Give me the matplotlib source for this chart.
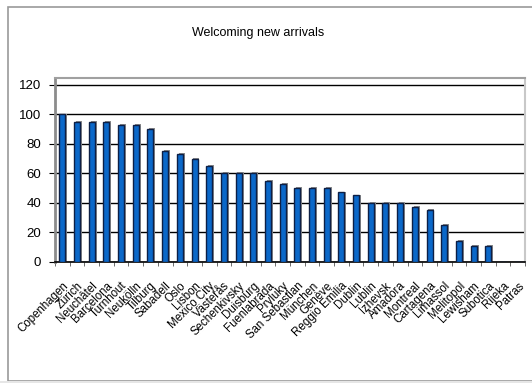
import numpy as np
import matplotlib.pyplot as plt
from matplotlib.patches import Rectangle

plt.rcParams['font.family'] = ['Liberation Sans', 'DejaVu Sans']

cities = ['Copenhagen', 'Zürich', 'Neuchâtel', 'Barcelona', 'Turnhout', 'Neukölln',
          'Tilburg', 'Sabadell', 'Oslo', 'Lisbon', 'Mexico City', 'Västerås',
          'Sechenkivsky', 'Duisburg', 'Fuenlabrada', 'Pryluky', 'San Sebastian',
          'München', 'Genève', 'Reggio Emilia', 'Dublin', 'Lublin', 'Izhevsk',
          'Amadora', 'Montreal', 'Cartagena', 'Limassol', 'Melitopol', 'Lewisham',
          'Subotica', 'Rijeka', 'Patras']
scores = [100, 95, 95, 95, 93, 93, 90, 75, 73, 70, 65, 60, 60, 60, 55, 53, 50,
          50, 50, 47, 45, 40, 40, 40, 37, 35, 25, 14, 11, 11, 0, 0]
yticks = [0, 20, 40, 60, 80, 100, 120]

fig = plt.figure(figsize=(5.32, 3.83), dpi=100)

# outer chart frame
fig.patches.append(Rectangle((8 / 532, 2 / 383), 1.0, 374 / 383, transform=fig.transFigure,
                             fill=False, edgecolor='#9a9a9a', lw=1.2, zorder=0))
fig.patches.append(Rectangle((0, 0), 1, 2 / 383, transform=fig.transFigure,
                             facecolor='#e6e6e6', edgecolor='none', zorder=0))

ax = fig.add_axes([55 / 532, 1 - 261.7 / 383, 470 / 532, (261.7 - 78) / 383])

x = np.arange(len(cities))
w = 0.41
# drop shadow behind each bar
ax.bar(x + 0.13, [s + 0.6 if s > 0 else 0 for s in scores], width=w,
       color='#8c8c8c', edgecolor='none', zorder=2)
ax.bar(x, scores, width=w, color='#0b68c9', edgecolor='#0d1f45', lw=1.0, zorder=3)

ax.set_xlim(-0.5, len(cities) - 0.5)
ax.set_ylim(0, 124.75)
ax.set_yticks(yticks)
ax.yaxis.grid(True, color='black', lw=1.0)
ax.set_axisbelow(True)

ax.set_xticks(x)
ax.set_xticklabels(cities, rotation=45, ha='right', va='top', rotation_mode='anchor',
                   fontsize=8.3)
ax.set_xticks(np.arange(-0.5, len(cities)), minor=True)
ax.tick_params(axis='x', which='major', length=0, pad=13)
ax.tick_params(axis='x', which='minor', length=3, color='#555555', direction='out')
ax.tick_params(axis='y', length=4, color='black', labelsize=9.5, pad=6)

ax.spines['left'].set_color('#8c8c8c')
ax.spines['left'].set_linewidth(2)
ax.spines['top'].set_color('#a0a0a0')
ax.spines['top'].set_linewidth(1.5)
ax.spines['right'].set_color('#c8c8c8')
ax.spines['right'].set_linewidth(1.5)
ax.spines['bottom'].set_color('black')
ax.spines['bottom'].set_linewidth(1.2)

fig.text(258 / 532, 1 - 33 / 383, 'Welcoming new arrivals', ha='center', va='center',
         fontsize=9)

fig.savefig('out.png', dpi=100)
